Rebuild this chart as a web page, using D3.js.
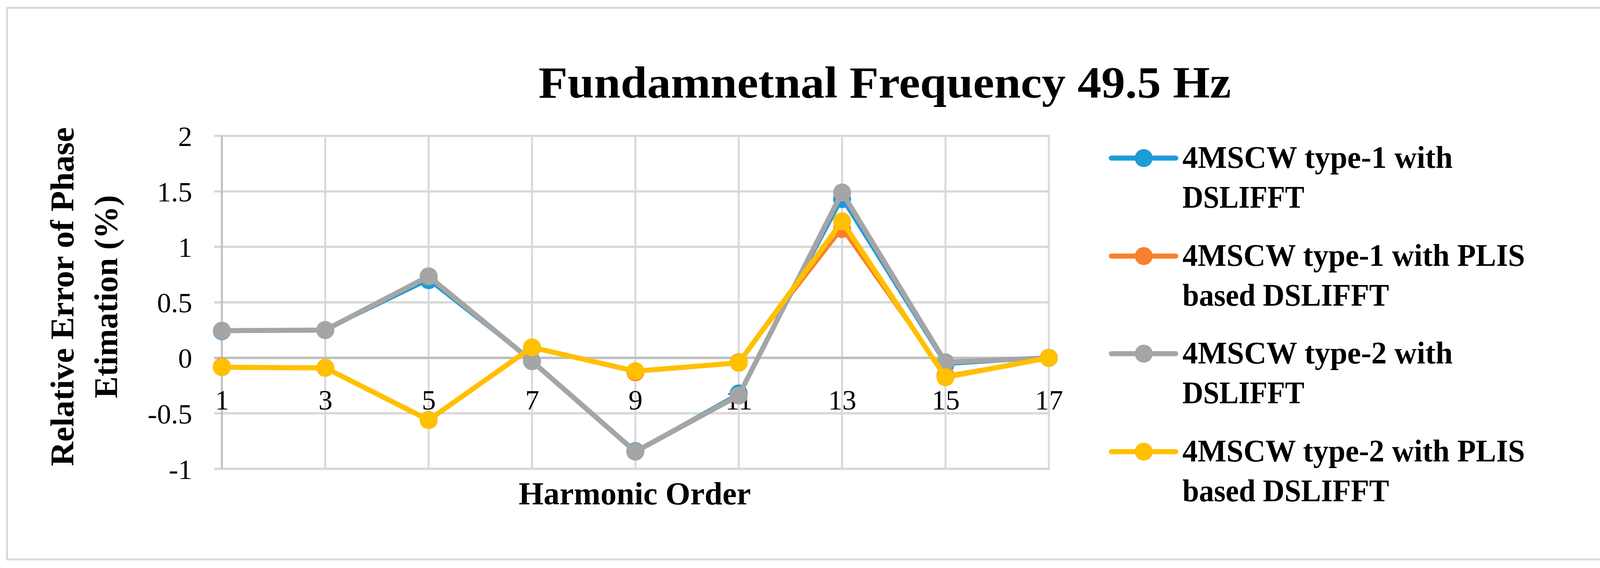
<!DOCTYPE html>
<html><head><meta charset="utf-8">
<script src="https://cdn.jsdelivr.net/npm/d3@7"></script>
<style>body{margin:0;background:#fff}svg{display:block}</style>
</head><body>
<script>
const categories = [1,3,5,7,9,11,13,15,17];
const seriesNames = ["4MSCW type-1 with DSLIFFT","4MSCW type-1 with PLIS based DSLIFFT","4MSCW type-2 with DSLIFFT","4MSCW type-2 with PLIS based DSLIFFT"];
const legendLines = [["4MSCW type-1 with","DSLIFFT"],["4MSCW type-1 with PLIS","based DSLIFFT"],["4MSCW type-2 with","DSLIFFT"],["4MSCW type-2 with PLIS","based DSLIFFT"]];
const type1DSLIFFT = [0.24,0.25,0.70,-0.03,-0.84,-0.32,1.43,-0.06,0];
const type1PLIS    = [-0.08,-0.09,-0.56,0.09,-0.13,-0.04,1.16,-0.16,0];
const type2DSLIFFT = [0.245,0.25,0.735,-0.03,-0.845,-0.34,1.49,-0.04,0];
const type2PLIS    = [-0.085,-0.09,-0.56,0.095,-0.12,-0.045,1.23,-0.175,0];
const yTicks = [-1,-0.5,0,0.5,1,1.5,2];
const colors = ["#1f9bd8","#f97f2a","#a5a5a5","#ffc000"];
const series = [type1DSLIFFT,type1PLIS,type2DSLIFFT,type2PLIS];

const W=4231,H=1455, font="'Liberation Serif', serif";
const svg=d3.select("body").append("svg").attr("width",W).attr("height",H);
svg.append("rect").attr("x",18).attr("y",20).attr("width",W-38).attr("height",H-42)
  .attr("fill","#fff").attr("stroke","#d9d9d9").attr("stroke-width",5);

const x=d3.scalePoint().domain(categories).range([568,2685]);
const y=d3.scaleLinear().domain([-1,2]).range([1201,348]);

const g=svg.append("g");
g.selectAll(".hg").data(yTicks).join("line")
  .attr("x1",548).attr("x2",2688).attr("y1",d=>y(d)).attr("y2",d=>y(d))
  .attr("stroke","#d9d9d9").attr("stroke-width",6);
g.selectAll(".vg").data(categories).join("line")
  .attr("x1",d=>x(d)).attr("x2",d=>x(d)).attr("y1",348).attr("y2",1201)
  .attr("stroke",(d,i)=>i===0?"#bfbfbf":"#d9d9d9").attr("stroke-width",5);
g.append("line").attr("x1",548).attr("x2",2688).attr("y1",y(0)).attr("y2",y(0))
  .attr("stroke","#bfbfbf").attr("stroke-width",6);

const yAxis=d3.axisLeft(y).tickValues(yTicks).tickSize(0).tickPadding(0).tickFormat(d=>String(d));
const ya=svg.append("g").attr("transform","translate(492,0)").call(yAxis);
ya.select(".domain").remove();
ya.selectAll("text").attr("font-family",font).attr("font-size",72).attr("fill","#000").attr("dy","0.35em");

const xAxis=d3.axisBottom(x).tickSize(0).tickPadding(0);
const xa=svg.append("g").attr("transform","translate(0,1049)").call(xAxis);
xa.select(".domain").remove();
xa.selectAll("text").attr("font-family",font).attr("font-size",72).attr("fill","#000").attr("dy","0");

const line=d3.line().x((d,i)=>x(categories[i])).y(d=>y(d));
series.forEach((s,k)=>{
  const sg=svg.append("g");
  sg.append("path").datum(s).attr("d",line).attr("fill","none")
    .attr("stroke",colors[k]).attr("stroke-width",k===0||k===1?8:13).attr("stroke-linejoin","round");
  sg.selectAll("circle").data(s).join("circle")
    .attr("cx",(d,i)=>x(categories[i])).attr("cy",d=>y(d)).attr("r",23).attr("fill",colors[k]);
});

svg.append("text").attr("x",2265).attr("y",250).attr("text-anchor","middle")
  .attr("font-family",font).attr("font-weight","bold").attr("font-size",115)
  .attr("textLength",1773).attr("lengthAdjust","spacingAndGlyphs").text("Fundamnetnal Frequency 49.5 Hz");

const yt=svg.append("text").attr("transform","translate(0,760) rotate(-90)")
  .attr("text-anchor","middle").attr("font-family",font).attr("font-weight","bold").attr("font-size",84);
yt.append("tspan").attr("x",0).attr("y",188).attr("textLength",868).attr("lengthAdjust","spacingAndGlyphs").text("Relative Error of Phase");
yt.append("tspan").attr("x",0).attr("y",300).text("Etimation (%)");

svg.append("text").attr("x",1625).attr("y",1292).attr("text-anchor","middle")
  .attr("font-family",font).attr("font-weight","bold").attr("font-size",82).text("Harmonic Order");

const lw={"4MSCW type-1 with":692,"4MSCW type-2 with":692,"DSLIFFT":312,"4MSCW type-1 with PLIS":877,"4MSCW type-2 with PLIS":877,"based DSLIFFT":529};
const ly=[405,656,906,1157];
legendLines.forEach((ls,k)=>{
  svg.append("line").attr("x1",2845).attr("x2",3010).attr("y1",ly[k]).attr("y2",ly[k])
    .attr("stroke",colors[k]).attr("stroke-width",13).attr("stroke-linecap","round");
  svg.append("circle").attr("cx",2928).attr("cy",ly[k]).attr("r",23).attr("fill",colors[k]);
  const t=svg.append("text").attr("font-family",font).attr("font-weight","bold").attr("font-size",80);
  ls.forEach((s,j)=>t.append("tspan").attr("x",3027).attr("y",ly[k]+25+j*102)
    .attr("textLength",lw[s]).attr("lengthAdjust","spacingAndGlyphs").text(s));
});
</script>
</body></html>
